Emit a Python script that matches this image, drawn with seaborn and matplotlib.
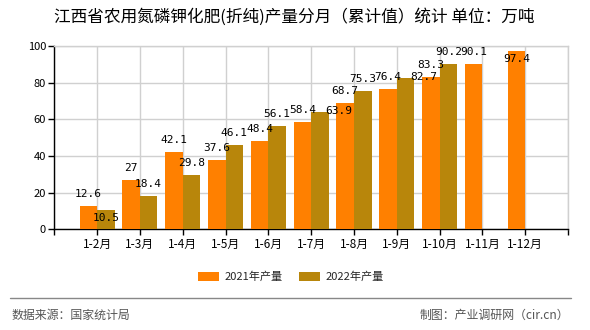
import numpy as np
import pandas as pd
import matplotlib
matplotlib.use("Agg")
import matplotlib.pyplot as plt
from matplotlib.lines import Line2D
from matplotlib.patches import Patch
import seaborn as sns

categories = ["1-2月", "1-3月", "1-4月", "1-5月", "1-6月", "1-7月", "1-8月",
              "1-9月", "1-10月", "1-11月", "1-12月"]
vals_2021 = [12.6, 27, 42.1, 37.6, 48.4, 58.4, 68.7, 76.4, 83.3, 90.1, 97.4]
vals_2022 = [10.5, 18.4, 29.8, 46.1, 56.1, 63.9, 75.3, 82.7, 90.2, np.nan, np.nan]
series_names = ["2021年产量", "2022年产量"]
yticks = [0, 20, 40, 60, 80, 100]
title = "江西省农用氮磷钾化肥(折纯)产量分月（累计值）统计 单位：万吨"
source = "数据来源：国家统计局"
credit = "制图：产业调研网（cir.cn）"

# label nudges in pixels (default: above bar); keyed by (series, category index)
label_nudge = {(1, 0): (0, 8), (1, 5): (19, -1), (1, 7): (18, -1), (0, 10): (0, 8)}

colors = ["#FF8000", "#B8860B"]

sns.set_theme(style="white")
plt.rcParams["font.family"] = ["Noto Sans CJK SC", "DejaVu Sans"]

df = pd.DataFrame({
    "cat": categories * 2,
    "series": [series_names[0]] * len(categories) + [series_names[1]] * len(categories),
    "value": vals_2021 + vals_2022,
}).dropna()

fig = plt.figure(figsize=(5.9, 3.3), dpi=100)
ax = fig.add_axes([54.3 / 590, 1 - 229.3 / 330, (568 - 54.3) / 590, (229.3 - 46) / 330])

sns.barplot(data=df, x="cat", y="value", hue="series", order=categories,
            hue_order=series_names, palette=colors, width=0.82, saturation=1,
            linewidth=0, ax=ax, legend=False, zorder=3)

ax.set_xlim(-1, len(categories))
ax.set_ylim(0, 100)
ax.set_yticks(yticks)
ax.set_yticklabels([str(v) for v in yticks], fontsize=8)
xt = list(range(-1, len(categories) + 1))
ax.set_xticks(xt)
ax.set_xticklabels([""] + categories + [""], fontsize=8.5)
ax.set_xlabel("")
ax.set_ylabel("")

ax.grid(True, color="#D0D0D0", linewidth=1, zorder=0)
ax.set_axisbelow(True)
for s in ["top", "right"]:
    ax.spines[s].set_color("#D0D0D0")
    ax.spines[s].set_linewidth(1)
for s in ["left", "bottom"]:
    ax.spines[s].set_color("black")
    ax.spines[s].set_linewidth(1)
ax.tick_params(axis="both", which="both", length=4, width=1, color="black",
               bottom=True, left=True, pad=2, labelcolor="black")
ax.tick_params(axis="x", pad=2)

for si, cont in enumerate(ax.containers):
    for bar in cont:
        h = bar.get_height()
        if not np.isfinite(h) or h == 0:
            continue
        cx = bar.get_x() + bar.get_width() / 2
        ci = int(round(cx))
        dx, dy = label_nudge.get((si, ci), (0, -12))
        txt = f"{h:g}"
        ax.annotate(txt, xy=(cx, h), xytext=(dx, -dy), textcoords="offset pixels",
                    ha="center", va="center", fontsize=8,
                    family="DejaVu Sans Mono", color="black", zorder=5)

handles = [Patch(facecolor=c, edgecolor="none") for c in colors]
fig.legend(handles, series_names, loc="center", bbox_to_anchor=(291 / 590, 1 - 277 / 330),
           ncol=2, frameon=False, fontsize=8, handlelength=1.9, handleheight=0.8,
           handletextpad=0.5, columnspacing=1.4)

fig.text(294 / 590, 1 - 16.7 / 330, title, ha="center", va="center",
         fontsize=12, color="black")

fig.add_artist(Line2D([10 / 590, 571 / 590], [1 - 297.7 / 330] * 2,
                      color="#888888", linewidth=1))
fig.text(12 / 590, 1 - 315.7 / 330, source, ha="left", va="center",
         fontsize=8.6, color="#555555")
fig.text(569 / 590, 1 - 315.7 / 330, credit, ha="right", va="center",
         fontsize=8.6, color="#555555")

fig.savefig("out.png", dpi=100)
